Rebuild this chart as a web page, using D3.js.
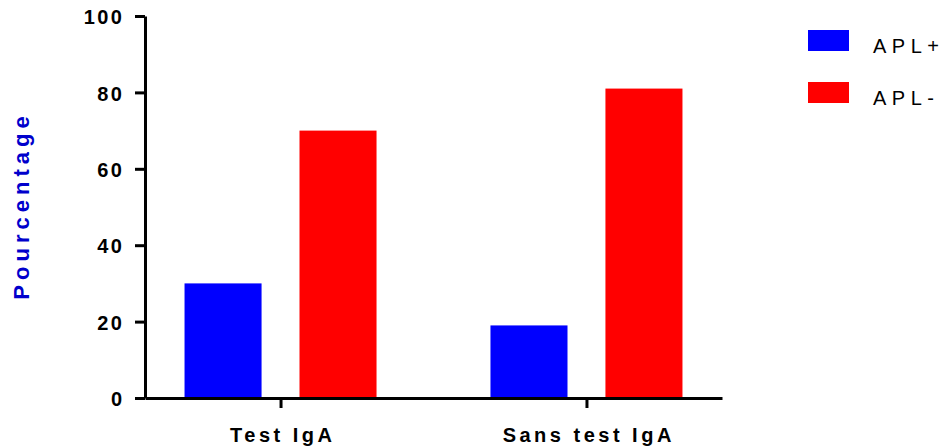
<!DOCTYPE html>
<html>
<head>
<meta charset="utf-8">
<script src="https://cdn.jsdelivr.net/npm/d3@7"></script>
<style>
  html, body { margin: 0; padding: 0; background: #fff; }
  svg { display: block; }
</style>
</head>
<body>
<svg id="chart" width="948" height="446"></svg>
<script>
const categories = ["Test IgA", "Sans test IgA"];
const seriesNames = ["APL+", "APL-"];
const seriesColors = ["#0000ff", "#ff0000"];
const aplPlus = [30, 19];
const aplMinus = [70, 81];
const yTicks = [0, 20, 40, 60, 80, 100];
const yTitle = "Pourcentage";

const svg = d3.select("#chart");
const font = "'Liberation Sans', Arial, Helvetica, sans-serif";

const y = d3.scaleLinear().domain([0, 100]).range([398, 16]);
const x0 = d3.scalePoint().domain(categories).range([145, 722]).padding(0.443);
const x1 = d3.scaleBand().domain(seriesNames).range([-96, 96]).paddingInner(0.33).paddingOuter(0);
const color = d3.scaleOrdinal().domain(seriesNames).range(seriesColors);

const rows = categories.map((c, i) => ({ cat: c, vals: [
  { s: seriesNames[0], v: aplPlus[i] },
  { s: seriesNames[1], v: aplMinus[i] }
]}));

// bars
const g = svg.append("g");
g.selectAll("g.grp").data(rows).join("g")
  .attr("class", "grp")
  .attr("transform", d => `translate(${x0(d.cat)},0)`)
  .selectAll("rect").data(d => d.vals).join("rect")
  .attr("x", d => x1(d.s))
  .attr("width", x1.bandwidth())
  .attr("y", d => y(d.v))
  .attr("height", d => y(0) - y(d.v))
  .attr("fill", d => color(d.s));

// y axis
const yAxis = svg.append("g")
  .attr("transform", "translate(145,0)")
  .call(d3.axisLeft(y).tickValues(yTicks).tickSize(10).tickSizeOuter(0).tickPadding(13));
yAxis.attr("font-size", null).attr("font-family", null);
yAxis.select(".domain").attr("stroke", "#000").attr("stroke-width", 3);
yAxis.selectAll(".tick line").attr("stroke", "#000").attr("stroke-width", 3);
yAxis.selectAll(".tick text")
  .attr("fill", "#000")
  .attr("font-family", font)
  .attr("font-size", "20px")
  .attr("font-weight", "bold")
  .attr("letter-spacing", "2.5px")
  .attr("dx", "2.5px")
  .attr("dy", "0.38em");

// x axis
const xAxis = svg.append("g")
  .attr("transform", "translate(0,398)")
  .call(d3.axisBottom(x0).tickSize(10).tickSizeOuter(0).tickPadding(14));
xAxis.attr("font-size", null).attr("font-family", null);
xAxis.select(".domain").attr("stroke", "#000").attr("stroke-width", 3);
xAxis.selectAll(".tick line").attr("stroke", "#000").attr("stroke-width", 3);
xAxis.selectAll(".tick text")
  .attr("fill", "#000")
  .attr("font-family", font)
  .attr("font-size", "20px")
  .attr("font-weight", "bold")
  .attr("letter-spacing", "3.5px")
  .attr("dx", "1.75px")
  .attr("y", 44)
  .attr("dy", 0);

// y title
svg.append("text")
  .attr("transform", "translate(29,208) rotate(-90)")
  .attr("text-anchor", "middle")
  .attr("fill", "#0000cc")
  .attr("font-family", font)
  .attr("font-size", "22px")
  .attr("font-weight", "bold")
  .attr("letter-spacing", "5px")
  .attr("dx", "2.5px")
  .text(yTitle);

// legend
const legend = svg.append("g");
const leg = legend.selectAll("g").data(seriesNames).join("g")
  .attr("transform", (d, i) => `translate(808,${30 + i * 52})`);
leg.append("rect").attr("width", 41).attr("height", 21).attr("fill", d => color(d));
leg.append("text")
  .attr("x", 65).attr("y", 23)
  .attr("fill", "#000")
  .attr("font-family", font)
  .attr("font-size", "20px")
  .attr("letter-spacing", "5.5px")
  .text(d => d);
</script>
</body>
</html>
